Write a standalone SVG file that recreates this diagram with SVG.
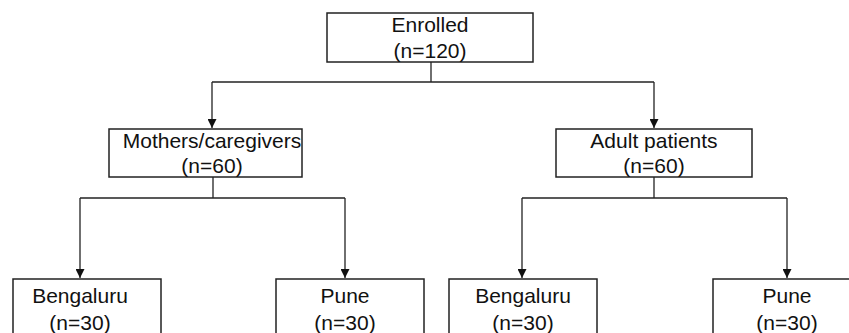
<svg xmlns="http://www.w3.org/2000/svg" width="849" height="333" viewBox="0 0 849 333">
<style>
.box{fill:#fff;stroke:#222;stroke-width:1.5}
.t{font-family:"Liberation Sans",Arial,sans-serif;font-size:21px;fill:#111;text-anchor:middle}
.c{fill:none;stroke:#222;stroke-width:1.3}
</style>
<defs>
<marker id="ah" viewBox="0 0 10 10" refX="10" refY="5" markerWidth="9" markerHeight="9" markerUnits="userSpaceOnUse" orient="auto">
<path d="M0,0L10,5L0,10Z" fill="#111"/>
</marker>
</defs>
<rect width="849" height="333" fill="#fff"/>
<g id="connectors">
<path class="c" d="M431,62V82"/>
<path class="c" d="M212,82H654"/>
<path class="c" d="M212,82V128" marker-end="url(#ah)"/>
<path class="c" d="M654,82V128" marker-end="url(#ah)"/>
<path class="c" d="M213,177V198"/>
<path class="c" d="M80,198H345"/>
<path class="c" d="M80,198V278" marker-end="url(#ah)"/>
<path class="c" d="M345,198V278" marker-end="url(#ah)"/>
<path class="c" d="M654,177V198"/>
<path class="c" d="M522,198H787"/>
<path class="c" d="M522,198V278" marker-end="url(#ah)"/>
<path class="c" d="M787,198V278" marker-end="url(#ah)"/>
</g>
<g id="enrolled">
<rect class="box" x="327" y="13" width="206" height="49"/>
<text class="t" x="430" y="32">Enrolled</text>
<text class="t" x="430" y="58">(n=120)</text>
</g>
<g id="mothers">
<rect class="box" x="109" y="129" width="193" height="48"/>
<text class="t" x="212" y="148">Mothers/caregivers</text>
<text class="t" x="212" y="173">(n=60)</text>
</g>
<g id="adults">
<rect class="box" x="556" y="129" width="196" height="48"/>
<text class="t" x="654" y="148">Adult patients</text>
<text class="t" x="654" y="173">(n=60)</text>
</g>
<g id="bengaluru1">
<rect class="box" x="13" y="279" width="148" height="70"/>
<text class="t" x="80" y="303">Bengaluru</text>
<text class="t" x="80" y="330">(n=30)</text>
</g>
<g id="pune1">
<rect class="box" x="276" y="279" width="148" height="70"/>
<text class="t" x="345" y="303">Pune</text>
<text class="t" x="345" y="330">(n=30)</text>
</g>
<g id="bengaluru2">
<rect class="box" x="449" y="279" width="148" height="70"/>
<text class="t" x="523" y="303">Bengaluru</text>
<text class="t" x="523" y="330">(n=30)</text>
</g>
<g id="pune2">
<rect class="box" x="713" y="279" width="148" height="70"/>
<text class="t" x="787" y="303">Pune</text>
<text class="t" x="787" y="330">(n=30)</text>
</g>
</svg>
